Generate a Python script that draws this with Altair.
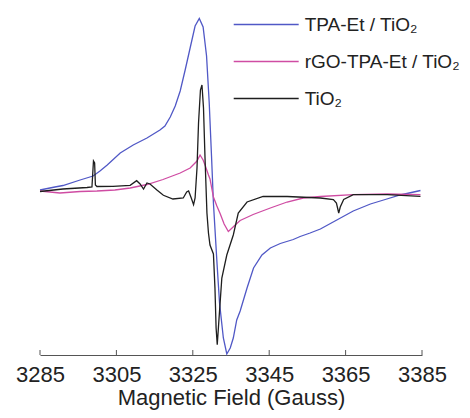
import altair as alt
import pandas as pd

# Series readings: magnetic field (Gauss) and EPR intensity (arbitrary units)
blue_field = [3285.0, 3288.9, 3291.0, 3295.5, 3298.9, 3300.7, 3302.6, 3306.0, 3309.4, 3313.0,
              3316.4, 3317.7, 3319.1, 3320.4, 3321.7, 3323.0, 3324.3, 3325.6, 3326.7, 3327.7,
              3328.6, 3329.3, 3329.9, 3330.4, 3331.3, 3332.0, 3333.0, 3333.9, 3334.8, 3335.6,
              3336.5, 3337.4, 3339.2, 3340.9, 3343.1, 3345.3, 3347.9, 3351.3, 3353.1, 3355.7,
              3358.4, 3362.7, 3367.0, 3371.5, 3375.8, 3379.3, 3384.6]
blue_int = [1, 4, 5.5, 11, 15, 20, 26, 38, 46, 53,
            61, 65, 74, 85, 100, 121, 143, 165, 172.5, 164,
            135, 88, 35, -12, -70, -112, -147, -163, -157, -147,
            -129, -120, -97, -77, -64, -57, -52.5, -48.5, -45.5, -42,
            -38, -29, -20, -13, -8, -4, 0.5]

mag_field = [3285.0, 3290.2, 3295.5, 3299.9, 3304.6, 3308.6, 3313.0, 3317.2, 3321.7, 3324.3,
             3326.1, 3326.9, 3327.7, 3328.2, 3329.1, 3329.5, 3330.4, 3331.3, 3332.2, 3333.2,
             3334.3, 3335.0, 3336.1, 3337.4, 3340.8, 3345.3, 3349.7, 3353.9, 3358.4, 3367.0,
             3375.9, 3384.6]
mag_int = [0, -2, -0.5, 0, 1, 3, 6.5, 11.5, 18, 23,
           30, 36, 31, 26, 16, 12, -6, -15, -23, -33,
           -40.5, -38, -34, -29.5, -23.5, -17, -11, -7, -5.5, -3.7,
           -3, -3.7]

blk_field = [3285.0, 3291.0, 3297.3, 3298.6, 3299.0, 3299.3, 3299.5, 3299.9, 3304.1, 3308.6,
             3310.3, 3311.2, 3312.1, 3313.0, 3313.8, 3315.6, 3317.3, 3319.8, 3322.5, 3323.4,
             3323.9, 3324.6, 3325.2, 3325.6, 3326.1, 3326.5, 3327.0, 3327.4, 3327.8, 3328.2,
             3328.7, 3329.1, 3329.5, 3330.4, 3330.8, 3331.1, 3331.4, 3331.7, 3332.0, 3332.6,
             3333.9, 3335.6, 3336.9, 3339.2, 3343.4, 3349.7, 3358.4, 3361.8, 3362.6, 3363.2,
             3363.6, 3364.5, 3367.0, 3375.9, 3384.6]
blk_int = [-0.5, 2, 3.5, 4, 30, 28, 6, 4.5, 4.7, 5.7,
           10.3, 7, 2, 8, 7, 1, -4.3, -8, -7, -1,
           0, -7, -13.7, -7, 23, 68, 101, 106, 83, 33,
           -22, -42, -54, -63, -97, -137, -153.7, -137, -120, -87,
           -64, -44, -22, -11, -5.5, -5.5, -7, -8.5, -12, -22,
           -16, -8.5, -3.7, -3.7, -5.3]

series_names = ["TPA-Et / TiO\u2082", "rGO-TPA-Et / TiO\u2082", "TiO\u2082"]
series_colors = ["#5058c6", "#cf4ca3", "#1e1e1e"]
tick_values = [3285, 3305, 3325, 3345, 3365, 3385]

rows = []
for name, fx, iy in zip(series_names, [blue_field, mag_field, blk_field], [blue_int, mag_int, blk_int]):
    for i, (f, v) in enumerate(zip(fx, iy)):
        rows.append({"series": name, "field": f, "intensity": v, "order": i})
df = pd.DataFrame(rows)

xscale = alt.Scale(domain=[3285, 3385], nice=False, zero=False)

lines = alt.Chart(df).mark_line(strokeWidth=1.3).encode(
    x=alt.X("field:Q", scale=xscale,
            axis=alt.Axis(values=tick_values, format="d", title="Magnetic Field (Gauss)",
                          ticks=False, tickSize=0, labelPadding=9, labelFontSize=22,
                          labelFont="Liberation Sans", labelColor="#222",
                          titleFont="Liberation Sans", titleFontSize=22, titleFontWeight="normal",
                          titleColor="#222", titlePadding=2, domainColor="#555",
                          grid=False, labelFlush=False)),
    y=alt.Y("intensity:Q", scale=alt.Scale(domain=[-164, 183], nice=False, zero=False), axis=None),
    color=alt.Color("series:N", sort=series_names,
                    scale=alt.Scale(domain=series_names, range=series_colors),
                    legend=alt.Legend(title=None, orient="none", legendX=214.7, legendY=5,
                                      symbolType="M-3,0H3", symbolSize=469,
                                      symbolStrokeWidth=1.3,
                                      labelFont="Liberation Sans", labelFontSize=19,
                                      labelColor="#222", labelOffset=27, rowPadding=15,
                                      padding=0, labelLimit=300)),
    order="order:Q",
)

ticks_df = pd.DataFrame({"t": tick_values})
ticks = alt.Chart(ticks_df).mark_rule(color="#555", strokeWidth=1).encode(
    x=alt.X("t:Q", scale=xscale),
    y=alt.value(342),
    y2=alt.value(347),
)

chart = alt.layer(lines, ticks).properties(
    width=382, height=347,
    autosize=alt.AutoSizeParams(type="none"),
    padding={"left": 32, "top": 0, "right": 40, "bottom": 55},
).configure_view(stroke=None)

chart.save("out.html", embed_options={"renderer": "svg", "actions": False})
